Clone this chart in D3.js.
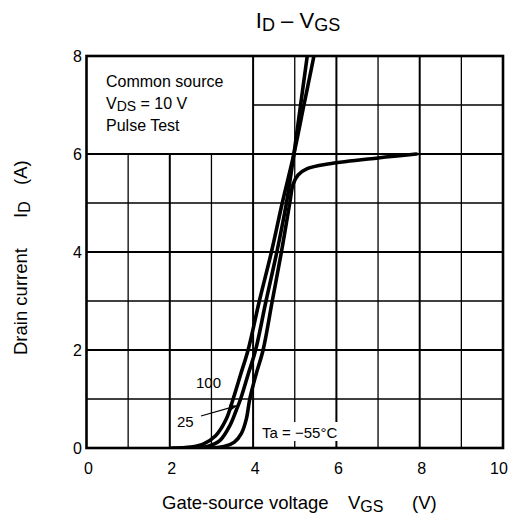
<!DOCTYPE html>
<html><head><meta charset="utf-8">
<script src="https://cdn.jsdelivr.net/npm/d3@7"></script>
<style>body{margin:0;background:#fff;} text{font-family:"Liberation Sans",Arial,sans-serif;fill:#000;}</style>
</head><body>
<script>
// Data
const xTicks = [0, 2, 4, 6, 8, 10];
const yTicks = [0, 2, 4, 6, 8];
const curve100 = [[2.05,0],[2.5,0.02],[2.8,0.08],[3.1,0.25],[3.35,0.58],[3.52,1.0],[3.7,1.5],[3.88,2.0],[4.15,3.0],[4.44,4.0],[4.7,5.0],[4.98,6.0],[5.22,7.0],[5.46,8.0],[5.5,8.2]];
const curve25 = [[2.5,0],[2.9,0.03],[3.2,0.15],[3.45,0.47],[3.6,0.78],[3.7,1.0],[3.88,1.5],[4.06,2.0],[4.31,3.0],[4.57,4.0],[4.8,5.0],[4.98,6.0],[5.14,7.0],[5.3,8.0],[5.33,8.2]];
const curveM55 = [[2.9,0],[3.3,0.03],[3.55,0.12],[3.72,0.3],[3.84,0.6],[3.92,1.0],[4.07,1.5],[4.24,2.0],[4.46,3.0],[4.68,4.0],[4.88,5.0],[4.96,5.38],[5.08,5.57],[5.3,5.7],[5.84,5.8],[7.0,5.92],[7.92,6.0]];
const seriesLabels = ["100", "25", "Ta = \u221255\u00b0C"];

const W = 509, H = 522;
const svg = d3.select("body").append("svg").attr("width", W).attr("height", H);
const x = d3.scaleLinear().domain([0, 10]).range([86.5, 503]);
const y = d3.scaleLinear().domain([0, 8]).range([448, 56]);

svg.append("clipPath").attr("id","clip").append("rect")
  .attr("x", x(0)).attr("y", y(8)).attr("width", x(10)-x(0)).attr("height", y(0)-y(8));

// grid
const g = svg.append("g");
for (let v = 1; v < 10; v++) {
  const top = v < 4 ? 6 : 8;
  g.append("line").attr("x1", x(v)).attr("x2", x(v)).attr("y1", y(0)).attr("y2", y(top))
    .attr("stroke", "#000").attr("stroke-width", v % 2 === 0 ? 2 : 1.3);
}
for (let v = 1; v < 8; v++) {
  const left = v > 6 ? 4 : 0;
  g.append("line").attr("x1", x(left)).attr("x2", x(10)).attr("y1", y(v)).attr("y2", y(v))
    .attr("stroke", "#000").attr("stroke-width", v % 2 === 0 ? 2 : 1.3);
}

// Ta label background
svg.append("rect").attr("x", 259).attr("y", 422).attr("width", 86).attr("height", 19).attr("fill", "#fff");

// curves
const line = d3.line().x(d => x(d[0])).y(d => y(d[1])).curve(d3.curveCatmullRom.alpha(0.5));
const cg = svg.append("g").attr("clip-path", "url(#clip)");
[curve100, curve25, curveM55].forEach(c => {
  cg.append("path").datum(c).attr("d", line).attr("fill", "none")
    .attr("stroke", "#000").attr("stroke-width", 3.6).attr("stroke-linejoin", "round").attr("stroke-linecap","round");
});

// frame
svg.append("rect").attr("x", x(0)).attr("y", y(8)).attr("width", x(10)-x(0)).attr("height", y(0)-y(8))
  .attr("fill", "none").attr("stroke", "#000").attr("stroke-width", 2.6);

// tick labels
svg.selectAll(".xt").data(xTicks).enter().append("text")
  .attr("x", d => d === 10 ? x(d) - 4 : x(d) + 2).attr("y", 474).attr("text-anchor", "middle").attr("font-size", 16).text(d => d);
svg.selectAll(".yt").data(yTicks).enter().append("text")
  .attr("x", 82).attr("y", d => y(d) + 6).attr("text-anchor", "end").attr("font-size", 16).text(d => d);

// title
const t = svg.append("text").attr("x", 298).attr("y", 28).attr("text-anchor", "middle").attr("font-size", 22);
t.append("tspan").text("I");
t.append("tspan").attr("font-size", 18).attr("dy", 3).text("D");
t.append("tspan").attr("dy", -3).text(" \u2013 V");
t.append("tspan").attr("font-size", 18).attr("dy", 3).text("GS");

// info box
svg.append("text").attr("x", 106).attr("y", 87).attr("font-size", 16).text("Common source");
const vds = svg.append("text").attr("x", 106).attr("y", 109).attr("font-size", 16);
vds.append("tspan").text("V");
vds.append("tspan").attr("font-size", 14).attr("dy", 2).text("DS");
vds.append("tspan").attr("dy", -2).text(" = 10 V");
svg.append("text").attr("x", 106).attr("y", 131).attr("font-size", 16).text("Pulse Test");

// series labels
svg.append("text").attr("x", 196).attr("y", 388).attr("font-size", 15).text(seriesLabels[0]);
svg.append("text").attr("x", 177).attr("y", 427).attr("font-size", 15).text(seriesLabels[1]);
svg.append("text").attr("x", 262).attr("y", 438).attr("font-size", 15).text(seriesLabels[2]);

// arrow for 25
svg.append("defs").append("marker").attr("id","ah").attr("viewBox","0 0 10 10").attr("refX",9).attr("refY",5)
  .attr("markerWidth",8).attr("markerHeight",6).attr("orient","auto")
  .append("path").attr("d","M0,1 L10,5 L0,9 Z").attr("fill","#000");
svg.append("line").attr("x1", 201).attr("y1", 416).attr("x2", x(3.6)).attr("y2", y(0.86))
  .attr("stroke","#000").attr("stroke-width",1.3).attr("marker-end","url(#ah)");

// axis labels
const xl = svg.append("text").attr("x", 162).attr("y", 509).attr("font-size", 18.5);
xl.append("tspan").text("Gate-source voltage");
xl.append("tspan").attr("x", 348).text("V");
xl.append("tspan").attr("font-size", 16).attr("dy", 3).text("GS");
xl.append("tspan").attr("x", 412).attr("dy", -3).text("(V)");

const yl = svg.append("text").attr("transform", "translate(27,355) rotate(-90)").attr("font-size", 18.5);
yl.append("tspan").attr("x", 0).text("Drain current");
yl.append("tspan").attr("x", 137).text("I");
yl.append("tspan").attr("font-size", 16).attr("dy", 3).text("D");
yl.append("tspan").attr("x", 170).attr("dy", -3).text("(A)");
</script>
</body></html>
